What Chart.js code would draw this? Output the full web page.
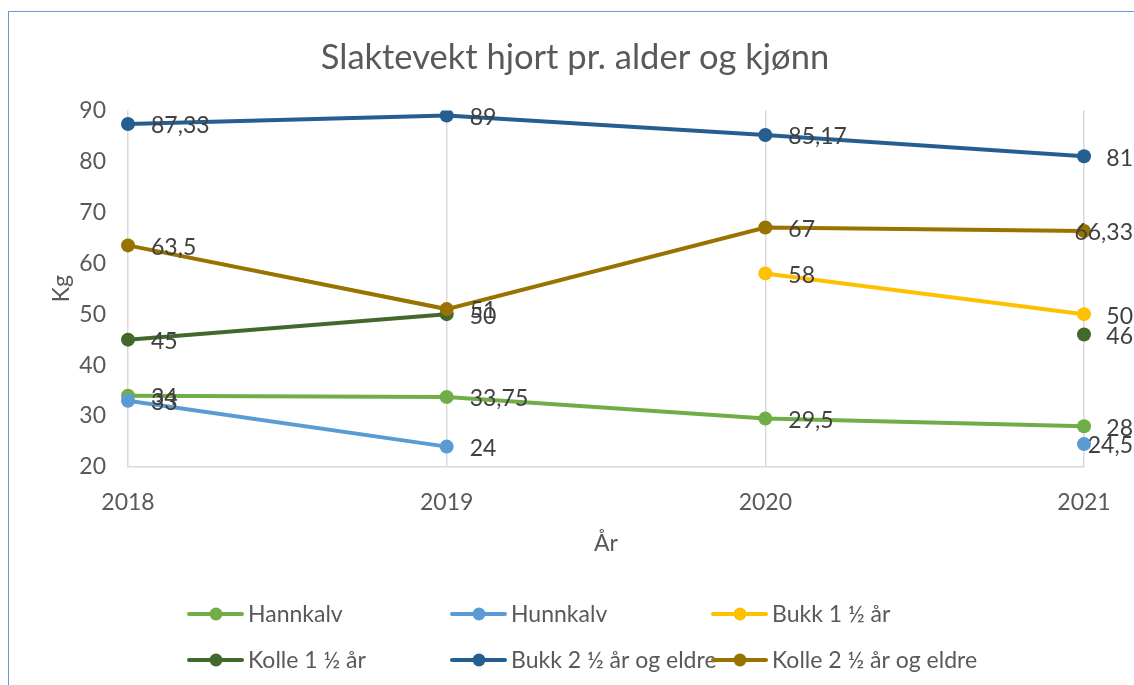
<!DOCTYPE html>
<html>
<head>
<meta charset="utf-8">
<script src="https://cdn.jsdelivr.net/npm/chart.js@4"></script>
<style>
  body { margin: 0; background: #fff; }
  #wrap { position: relative; width: 1134px; height: 685px; }
  #frame { position: absolute; left: 8px; top: 11px; right: -10px; bottom: -10px; border-left: 1.5px solid #6f93d6; border-top: 1.5px solid #6f93d6; }
  canvas { position: absolute; left: 0; top: 0; }
</style>
</head>
<body>
<div id="wrap">
  <div id="frame"></div>
  <canvas id="myChart" width="1134" height="685"></canvas>
</div>
<script>
"use strict";

const years = ['2018', '2019', '2020', '2021'];
const seriesNames = ['Hannkalv', 'Hunnkalv', 'Bukk 1 ½ år', 'Kolle 1 ½ år', 'Bukk 2 ½ år og eldre', 'Kolle 2 ½ år og eldre'];
const hannkalv = [34, 33.75, 29.5, 28];
const hunnkalv = [33, 24, null, 24.5];
const bukk1 = [null, null, 58, 50];
const kolle1 = [45, 50, null, 46];
const bukk2 = [87.33, 89, 85.17, 81];
const kolle2 = [63.5, 51, 67, 66.33];
const seriesColors = ['#70AD47', '#5B9BD5', '#FFC000', '#43682B', '#255E91', '#997300'];
const yTicks = [20, 30, 40, 50, 60, 70, 80, 90];

const allValues = [hannkalv, hunnkalv, bukk1, kolle1, bukk2, kolle2];
const FONT = 'Lato';
const ctx = document.getElementById('myChart');

// data labels to the right of each point, nudged left if they run off the canvas
const pointLabels = {
  id: 'pointLabels',
  afterDatasetsDraw(chart) {
    const c = chart.ctx;
    c.save();
    c.font = '23px ' + FONT;
    c.fillStyle = '#404040';
    c.textAlign = 'left';
    c.textBaseline = 'middle';
    chart.data.datasets.forEach((ds, i) => {
      const meta = chart.getDatasetMeta(i);
      meta.data.forEach((pt, j) => {
        const v = ds.data[j];
        if (v === null) return;
        const txt = String(v).replace('.', ',');
        const w = c.measureText(txt).width;
        let x = pt.x + 23;
        if (x + w > 1133) x = 1133 - w;
        c.fillText(txt, x, pt.y + 2);
      });
    });
    c.restore();
  }
};

// legend laid out in a fixed 3 x 2 grid like the original
const gridLegend = {
  id: 'gridLegend',
  afterDraw(chart) {
    const c = chart.ctx;
    const cols = [189, 452, 713];
    const rows = [614, 660];
    c.save();
    c.font = '23px ' + FONT;
    c.textBaseline = 'middle';
    c.textAlign = 'left';
    seriesNames.forEach((name, i) => {
      const x = cols[i % 3];
      const y = rows[Math.floor(i / 3)];
      c.strokeStyle = seriesColors[i];
      c.lineWidth = 4;
      c.lineCap = 'round';
      c.beginPath();
      c.moveTo(x, y);
      c.lineTo(x + 53, y);
      c.stroke();
      c.fillStyle = seriesColors[i];
      c.beginPath();
      c.arc(x + 27, y, 6.5, 0, Math.PI * 2);
      c.fill();
      c.fillStyle = '#595959';
      c.fillText(name, x + 59, y + 1);
    });
    c.restore();
  }
};

new Chart(ctx, {
  type: 'line',
  data: {
    labels: years,
    datasets: seriesNames.map((name, i) => ({
      label: name,
      data: allValues[i],
      borderColor: seriesColors[i],
      backgroundColor: seriesColors[i],
      borderWidth: 4,
      pointRadius: 7,
      pointHoverRadius: 7,
      pointBorderWidth: 0,
      tension: 0,
      spanGaps: false,
      order: seriesNames.length - i
    }))
  },
  options: {
    responsive: false,
    animation: false,
    events: [],
    layout: { padding: { left: 16, right: 0, top: 0, bottom: 118 } },
    plugins: {
      legend: { display: false },
      tooltip: { enabled: false },
      title: {
        display: true,
        text: 'Slaktevekt hjort pr. alder og kjønn',
        color: '#595959',
        font: { family: FONT, size: 34.5, weight: 'normal' },
        padding: { top: 37, bottom: 32 }
      }
    },
    scales: {
      x: {
        type: 'category',
        offset: false,
        afterFit(scale) { scale.height = 100; },
        grid: { display: true, color: '#d9d9d9', lineWidth: 1.5, drawTicks: false },
        border: { display: true, color: '#d9d9d9', width: 1.5 },
        ticks: { color: '#595959', font: { family: FONT, size: 23 }, padding: 22, maxRotation: 0 },
        title: { display: true, text: 'År', color: '#595959', font: { family: FONT, size: 23 }, padding: { top: 0, bottom: 10 } }
      },
      y: {
        min: 20,
        max: 90,
        afterFit(scale) { scale.width = 112; },
        afterBuildTicks(scale) { scale.ticks = yTicks.map(v => ({ value: v })); },
        grid: { display: false, drawTicks: false },
        border: { display: false },
        ticks: { color: '#595959', font: { family: FONT, size: 23 }, padding: 22 },
        title: { display: true, text: 'Kg', color: '#595959', font: { family: FONT, size: 23 }, padding: { top: 32, bottom: 0 } }
      },
      // empty right-hand axis only keeps room for the labels at 2021
      yRight: {
        position: 'right',
        display: true,
        min: 20,
        max: 90,
        afterFit(scale) { scale.width = 50; },
        grid: { display: false, drawTicks: false },
        border: { display: false },
        ticks: { display: false }
      }
    }
  },
  plugins: [pointLabels, gridLegend]
});
</script>
</body>
</html>
